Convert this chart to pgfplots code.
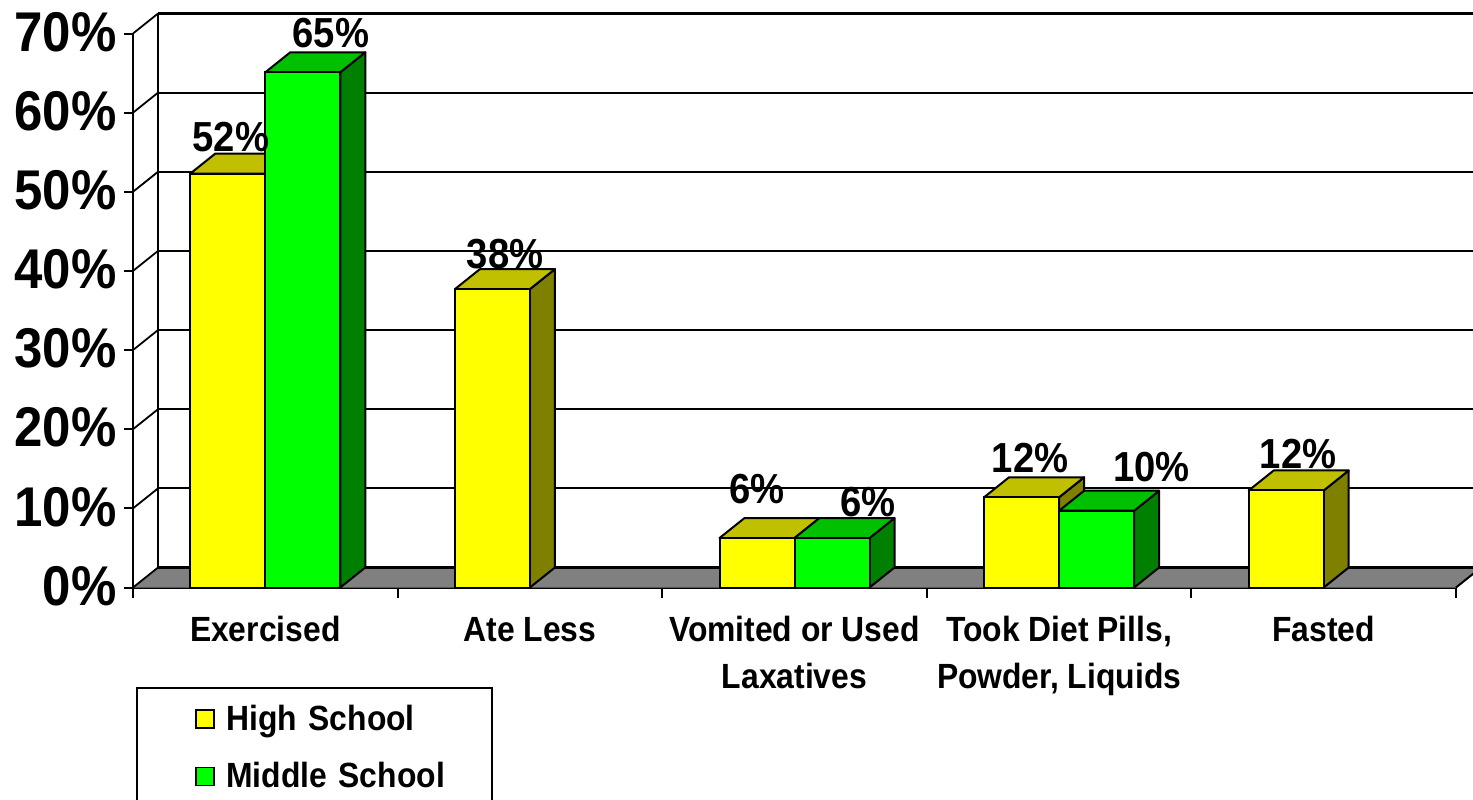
\documentclass[border=0pt]{standalone}
\usepackage{pgfplots}
\pgfplotsset{compat=1.18}
\usepackage{fontspec}
\setmainfont{Liberation Sans}[FakeStretch=0.91]
\definecolor{hsfront}{HTML}{FFFF00}
\definecolor{hstop}{HTML}{C0C000}
\definecolor{hsside}{HTML}{808000}
\definecolor{msfront}{HTML}{00FF00}
\definecolor{mstop}{HTML}{00C000}
\definecolor{msside}{HTML}{008000}
\definecolor{floorc}{HTML}{808080}
% depth of the 3-D effect, in axis units
\def\dX{0.0945}
\def\dY{2.527}
% top and side faces of a bar: {left x}{right x}{value}{top colour}{side colour}
\newcommand{\barfaces}[5]{%
  \pgfmathsetmacro{\xa}{#1+\dX}%
  \pgfmathsetmacro{\xb}{#2+\dX}%
  \pgfmathsetmacro{\yb}{#3+\dY}%
  \addplot[forget plot,draw=black,line width=1pt,fill=#5,line join=round] coordinates {(#2,0) (\xb,\dY) (\xb,\yb) (#2,#3)} --cycle;
  \addplot[forget plot,draw=black,line width=1pt,fill=#4,line join=round] coordinates {(#1,#3) (\xa,\yb) (\xb,\yb) (#2,#3)} --cycle;
}
\begin{document}
\begin{tikzpicture}
\path[use as bounding box,clip] (0,0) rectangle (736.5pt,399.5pt);
\begin{axis}[
  at={(66.5pt,105.75pt)}, anchor=south west,
  scale only axis, width=661.5pt, height=277pt,
  clip=false,
  xmin=0, xmax=5, ymin=0, ymax=70,
  axis x line*=bottom, axis y line*=left,
  axis line style={-,line width=1pt},
  every outer x axis line/.append style={-},
  every outer y axis line/.append style={-},
  tick align=outside, tick style={black,line width=1pt},
  major tick length=4.5pt, minor tick length=5pt,
  ytick={0,10,20,30,40,50,60,70},
  yticklabels={0\%,10\%,20\%,30\%,40\%,50\%,60\%,70\%},
  yticklabel style={font=\fontsize{28}{30}\selectfont\bfseries,inner sep=0pt,xshift=-3.5pt,yshift=0.75pt},
  ytick pos=left, xtick pos=bottom,
  xtick={0.5,1.5,2.5,3.5,4.5},
  minor xtick={0,1,2,3,4,5},
  major x tick style={draw=none},
  xticklabels={{\strut Exercised},{\strut Ate Less},{\strut Vomited or Used\\Laxatives},{\strut Took Diet Pills,\\Powder, Liquids},{\strut Fasted}},
  xticklabel style={font=\fontsize{17.5}{23.5}\selectfont\bfseries,align=center,anchor=north,inner sep=0pt},
  x tick label style={yshift=-6pt},
  legend image code/.code={%
    \path[draw=none,fill=none] (0pt,-5pt) rectangle (39pt,5pt);
    \draw[#1,line width=0.9pt] (29.5pt,-4.5pt) rectangle (38.5pt,4.5pt);
  },
  legend cell align=left,
  legend style={
    at={(0.0025,-0.1796)}, anchor=north west,
    draw=black, line width=0.9pt,
    inner xsep=0pt, inner ysep=8.5pt,
    row sep=14.5pt, column sep=5.5pt,
    font=\fontsize{17.5}{20}\selectfont\bfseries,
    nodes={inner sep=0pt,text width=133pt,align=left},
  },
]
% floor
\addplot[forget plot,draw=none,fill=floorc] coordinates {(0,0) (0.0945,2.527) (5.0945,2.527) (5,0)} --cycle;
\addplot[forget plot,draw=black,line width=1pt] coordinates {(5,0) (5.0945,2.527)};
% back wall grid
\addplot[forget plot,black,line width=1pt] coordinates {(0.0945,2.527) (0.0945,72.527)};
\addplot[forget plot,black,line width=1.4pt] coordinates {(0.0945,2.527) (5.0945,2.527)};
\addplot[forget plot,black,line width=0.9pt] coordinates {(0.0945,12.527) (5.0945,12.527)};
\addplot[forget plot,black,line width=0.9pt] coordinates {(0.0945,22.527) (5.0945,22.527)};
\addplot[forget plot,black,line width=0.9pt] coordinates {(0.0945,32.527) (5.0945,32.527)};
\addplot[forget plot,black,line width=0.9pt] coordinates {(0.0945,42.527) (5.0945,42.527)};
\addplot[forget plot,black,line width=0.9pt] coordinates {(0.0945,52.527) (5.0945,52.527)};
\addplot[forget plot,black,line width=0.9pt] coordinates {(0.0945,62.527) (5.0945,62.527)};
\addplot[forget plot,black,line width=1.2pt] coordinates {(0.0945,72.527) (5.0945,72.527)};
% side wall diagonals
\addplot[forget plot,black,line width=0.9pt] coordinates {(0,0) (0.0945,2.527)};
\addplot[forget plot,black,line width=0.9pt] coordinates {(0,10) (0.0945,12.527)};
\addplot[forget plot,black,line width=0.9pt] coordinates {(0,20) (0.0945,22.527)};
\addplot[forget plot,black,line width=0.9pt] coordinates {(0,30) (0.0945,32.527)};
\addplot[forget plot,black,line width=0.9pt] coordinates {(0,40) (0.0945,42.527)};
\addplot[forget plot,black,line width=0.9pt] coordinates {(0,50) (0.0945,52.527)};
\addplot[forget plot,black,line width=0.9pt] coordinates {(0,60) (0.0945,62.527)};
\addplot[forget plot,black,line width=0.9pt] coordinates {(0,70) (0.0945,72.527)};
% High School
\barfaces{0.2165}{0.5}{52.3}{hstop}{hsside}
\barfaces{1.2165}{1.5}{37.7}{hstop}{hsside}
\barfaces{2.2165}{2.5}{6.25}{hstop}{hsside}
\barfaces{3.2165}{3.5}{11.4}{hstop}{hsside}
\barfaces{4.2165}{4.5}{12.26}{hstop}{hsside}
\addplot[ybar,bar width=37.5pt,bar shift=-18.75pt,draw=black,line width=1pt,fill=hsfront]
  coordinates {(0.5,52.3) (1.5,37.7) (2.5,6.25) (3.5,11.4) (4.5,12.26)};
\addlegendentry{High School}
% Middle School
\barfaces{0.5}{0.7835}{65.1}{mstop}{msside}
\barfaces{2.5}{2.7835}{6.25}{mstop}{msside}
\barfaces{3.5}{3.7835}{9.7}{mstop}{msside}
\addplot[ybar,bar width=37.5pt,bar shift=18.75pt,draw=black,line width=1pt,fill=msfront]
  coordinates {(0.5,65.1) (2.5,6.25) (3.5,9.7)};
\addlegendentry{Middle School}
% value labels
\addplot[forget plot,only marks,mark=none,point meta=explicit symbolic,
  nodes near coords,
  every node near coord/.style={anchor=base,inner sep=0pt,yshift=0pt,font=\fontsize{21}{23}\selectfont\bfseries}]
  coordinates {
   (0.370,55.03) [52\%]
   (0.748,68.2) [65\%]
   (1.406,40.37) [38\%]
   (2.358,10.65) [6\%]
   (2.778,9.03) [6\%]
   (3.39,14.5) [12\%]
   (3.85,13.37) [10\%]
   (4.403,15.1) [12\%]
  };
\end{axis}
\end{tikzpicture}
\end{document}
